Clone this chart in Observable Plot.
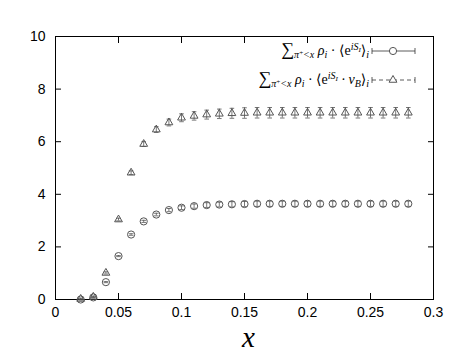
<!DOCTYPE html>
<html>
<head>
<meta charset="utf-8">
<script src="https://cdn.jsdelivr.net/npm/d3@7"></script>
<script src="https://cdn.jsdelivr.net/npm/@observablehq/plot@0.6"></script>
<style>
  html, body { margin: 0; padding: 0; background: #fff; }
</style>
</head>
<body>
<div id="chart"></div>
<script>
const xValues = [0.02,0.03,0.04,0.05,0.06,0.07,0.08,0.09,0.10,0.11,0.12,0.13,0.14,0.15,0.16,0.17,0.18,0.19,0.20,0.21,0.22,0.23,0.24,0.25,0.26,0.27,0.28];
const circleSeries = [0.00,0.08,0.66,1.65,2.47,2.97,3.23,3.40,3.49,3.55,3.59,3.61,3.62,3.63,3.64,3.64,3.64,3.64,3.64,3.64,3.64,3.64,3.64,3.64,3.64,3.64,3.64];
const circleErr    = [0.02,0.02,0.02,0.02,0.03,0.04,0.05,0.06,0.07,0.08,0.09,0.09,0.10,0.10,0.10,0.10,0.10,0.10,0.10,0.10,0.10,0.10,0.10,0.10,0.10,0.10,0.10];
const triangleSeries = [0.02,0.10,1.01,3.04,4.82,5.91,6.46,6.73,6.91,6.98,7.03,7.06,7.08,7.09,7.10,7.10,7.10,7.10,7.10,7.10,7.10,7.10,7.10,7.10,7.10,7.10,7.10];
const triangleErr    = [0.03,0.03,0.04,0.05,0.07,0.09,0.11,0.13,0.15,0.16,0.17,0.18,0.19,0.20,0.20,0.20,0.20,0.20,0.20,0.20,0.20,0.20,0.20,0.20,0.20,0.20,0.20];
const xTicks = [0, 0.05, 0.1, 0.15, 0.2, 0.25, 0.3];
const yTicks = [0, 2, 4, 6, 8, 10];
const xLabel = "x";

const circles = xValues.map((x, i) => ({x, y: circleSeries[i], e: circleErr[i]}));
const triangles = xValues.map((x, i) => ({x, y: triangleSeries[i], e: triangleErr[i]}));

const cap = { draw(context, size) { const w = Math.sqrt(size / Math.PI); context.moveTo(-w, 0); context.lineTo(w, 0); } };
const markerColor = "#555";
const sans = "'Liberation Sans', Arial, Helvetica, sans-serif";
const serif = "'Liberation Serif', 'DejaVu Serif', serif";

function series(data, symbol, r) {
  return [
    Plot.ruleX(data, {x: "x", y1: d => d.y - d.e, y2: d => d.y + d.e, stroke: markerColor, strokeWidth: 0.8}),
    Plot.dot(data, {x: "x", y: d => d.y - d.e, symbol: cap, r: 2.3, stroke: markerColor, strokeWidth: 0.8}),
    Plot.dot(data, {x: "x", y: d => d.y + d.e, symbol: cap, r: 2.3, stroke: markerColor, strokeWidth: 0.8}),
    Plot.dot(data, {x: "x", y: "y", symbol, r, stroke: markerColor, strokeWidth: 1, fill: "none"})
  ];
}

const fmt = d => `${d}`;

const plot = Plot.plot({
  width: 472,
  height: 354,
  marginLeft: 55,
  marginRight: 39,
  marginTop: 36,
  marginBottom: 55,
  style: {color: "#000", background: "#fff"},
  x: {domain: [0, 0.3]},
  y: {domain: [0, 10]},
  marks: [
    Plot.frame({stroke: "#000", strokeWidth: 1}),
    Plot.axisX(xTicks, {anchor: "bottom", tickSize: 0, tickPadding: 8, tickFormat: fmt, label: null, fontSize: 14, fontFamily: sans}),
    Plot.axisX(xTicks, {anchor: "bottom", tickSize: -6, tickFormat: () => "", label: null}),
    Plot.axisX(xTicks, {anchor: "top", tickSize: -6, tickFormat: () => "", label: null}),
    Plot.axisY(yTicks, {anchor: "left", tickSize: 0, tickPadding: 10, tickFormat: fmt, label: null, fontSize: 14, fontFamily: sans}),
    Plot.axisY(yTicks, {anchor: "left", tickSize: -6, tickFormat: () => "", label: null}),
    Plot.axisY(yTicks, {anchor: "right", tickSize: -6, tickFormat: () => "", label: null}),
    Plot.text([xLabel], {frameAnchor: "bottom", dx: 4, dy: 47, text: d => d, fontFamily: serif, fontStyle: "italic", fontSize: 29, lineAnchor: "bottom", className: "xlabel"}),
    ...series(circles, "circle", 3.6),
    ...series(triangles, "triangle", 2.9)
  ]
});

document.getElementById("chart").appendChild(plot);

const svg = d3.select(plot);
svg.selectAll(".xlabel text").style("font-family", serif).style("font-style", "italic");

// Legend (inside the plot, top right)
const legendRows = [
  {y: 51, dash: null, kind: "circle",
   segs: [
    {t: "\u2211", s: 18, b: 0},
    {t: "\u03c0", s: 10, b: 3, it: true},
    {t: "+", s: 7, b: 0},
    {t: "<x", s: 10, b: 3, it: true},
    {t: " \u03c1", s: 14, b: 0, it: true},
    {t: "i", s: 10, b: 3, it: true},
    {t: " \u00b7 \u27e8e", s: 14, b: 0},
    {t: "iS", s: 10, b: -5, it: true},
    {t: "I", s: 7, b: -3, it: true},
    {t: "\u27e9", s: 14, b: 0},
    {t: "i", s: 10, b: 3, it: true}
  ]},
  {y: 80, dash: "4,3", kind: "triangle",
   segs: [
    {t: "\u2211", s: 18, b: 0},
    {t: "\u03c0", s: 10, b: 3, it: true},
    {t: "+", s: 7, b: 0},
    {t: "<x", s: 10, b: 3, it: true},
    {t: " \u03c1", s: 14, b: 0, it: true},
    {t: "i", s: 10, b: 3, it: true},
    {t: " \u00b7 \u27e8e", s: 14, b: 0},
    {t: "iS", s: 10, b: -5, it: true},
    {t: "I", s: 7, b: -3, it: true},
    {t: " \u00b7 \u03bd", s: 14, b: 0, it: true},
    {t: "B", s: 10, b: 3, it: true},
    {t: "\u27e9", s: 14, b: 0},
    {t: "i", s: 10, b: 3, it: true}
  ]}
];
const lg = svg.append("g").attr("class", "legend");
legendRows.forEach(row => {
  const text = lg.append("text")
    .attr("x", 369).attr("y", row.y + 4)
    .attr("text-anchor", "end")
    .style("font-family", serif)
    .attr("fill", "#000");
  let prev = 0;
  row.segs.forEach(sg => {
    text.append("tspan")
      .attr("dy", sg.b - prev)
      .style("font-size", sg.s + "px")
      .style("font-style", sg.it ? "italic" : "normal")
      .style("font-family", serif)
      .text(sg.t);
    prev = sg.b;
  });
  lg.append("line").attr("x1", 372).attr("x2", 415).attr("y1", row.y).attr("y2", row.y)
    .attr("stroke", "#333").attr("stroke-width", 0.8).attr("stroke-dasharray", row.dash);
  [372, 415].forEach(cx => lg.append("line").attr("x1", cx).attr("x2", cx).attr("y1", row.y - 3).attr("y2", row.y + 3)
    .attr("stroke", "#333").attr("stroke-width", 0.8));
  const sym = row.kind === "circle" ? d3.symbol(d3.symbolCircle, Math.PI * 3.6 * 3.6) : d3.symbol(d3.symbolTriangle, Math.PI * 2.9 * 2.9);
  lg.append("path").attr("d", sym()).attr("transform", `translate(393,${row.y})`)
    .attr("fill", "#fff").attr("stroke", markerColor).attr("stroke-width", 1);
});
</script>
</body>
</html>
